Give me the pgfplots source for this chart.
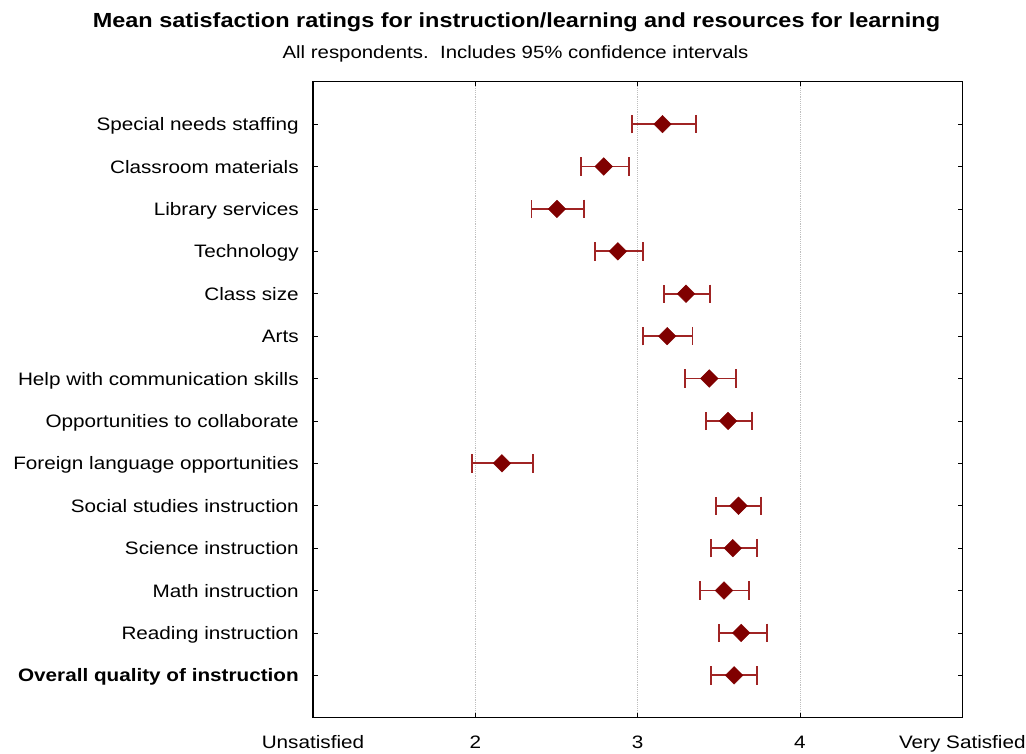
\documentclass[border=0pt]{standalone}
\usepackage{fontspec}
\setmainfont{Liberation Sans}[FakeStretch=1.15]
\usepackage{pgfplots}
\pgfplotsset{compat=1.18}
\definecolor{mk}{RGB}{128,0,0}
\definecolor{eb}{RGB}{160,36,36}
\begin{document}
\begin{tikzpicture}
\begin{axis}[
 name=ax, at={(0,0)}, anchor=south west,
 scale only axis, width=487pt, height=477pt,
 xmin=1, xmax=5, ymin=0, ymax=15,
 xtick={1,2,3,4,5}, xticklabels={Unsatisfied,2,3,4,Very Satisfied},
 ytick={1,...,14},
 yticklabels={\textbf{Overall quality of instruction}, Reading instruction, Math instruction, Science instruction, Social studies instruction, Foreign language opportunities, Opportunities to collaborate, Help with communication skills, Arts, Class size, Technology, Library services, Classroom materials, Special needs staffing},
 tick align=inside, xtick pos=both, ytick pos=both,
 major tick length=3.5pt,
 tick style={black, line width=0.6pt},
 axis line style={line width=0.9pt},
 xmajorgrids, grid style={densely dotted, gray!50, line width=0.6pt},
 tick label style={font=\fontsize{13.5}{16}\selectfont, inner sep=0pt},
 x tick label style={anchor=base, yshift=-23pt},
 y tick label style={anchor=base east, xshift=-10.5pt, yshift=-4.9pt},
]
\addplot[only marks, mark=diamond*, mark size=6.6pt,
  mark options={xscale=1.333, fill=mk, draw=mk, line width=0.3pt},
  error bars/.cd, x dir=both, x explicit,
  error bar style={eb, line width=1.3pt},
  error mark options={eb, line width=1.3pt, mark size=6.9pt, rotate=90}]
 table[x=x, y=y, x error plus=ep, x error minus=em] {
y x ep em
14 3.153 0.205 0.190
13 2.791 0.155 0.141
12 2.503 0.166 0.157
11 2.878 0.157 0.139
10 3.298 0.147 0.138
9 3.182 0.155 0.149
8 3.441 0.166 0.149
7 3.557 0.149 0.137
6 2.164 0.190 0.183
5 3.621 0.137 0.138
4 3.586 0.147 0.133
3 3.532 0.153 0.149
2 3.638 0.157 0.139
1 3.594 0.139 0.141
};
\end{axis}
\node[anchor=base, font=\fontsize{15.3}{18}\selectfont\bfseries] at (152.6pt,517.8pt) {Mean satisfaction ratings for instruction/learning and resources for learning};
\node[anchor=base, font=\fontsize{13.3}{16}\selectfont] at (151.9pt,494.4pt) {All respondents.\ \ Includes 95\% confidence intervals};
\pgfresetboundingbox
\useasboundingbox (-234.75pt,-27.2pt) rectangle (534.75pt,538.3pt);
\end{tikzpicture}
\end{document}
